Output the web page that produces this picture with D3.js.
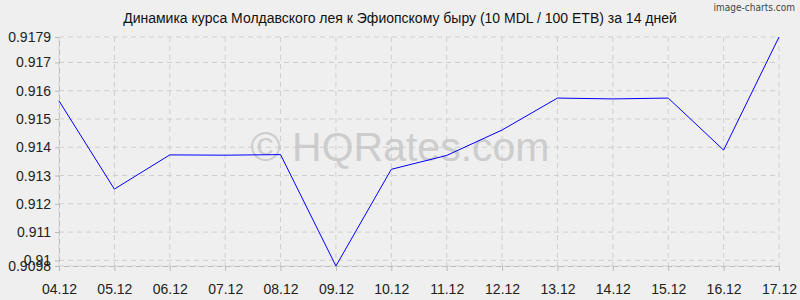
<!DOCTYPE html>
<html>
<head>
<meta charset="utf-8">
<script src="https://cdn.jsdelivr.net/npm/d3@7"></script>
<style>
  body { margin: 0; background: #efefef; }
  svg { display: block; font-family: "Liberation Sans", Arial, sans-serif; }
</style>
</head>
<body>
<svg width="800" height="300"></svg>
<script>
// data
var dates = ['04.12','05.12','06.12','07.12','08.12','09.12','10.12','11.12','12.12','13.12','14.12','15.12','16.12','17.12'];
var rates = [0.91564, 0.91252, 0.91373, 0.91372, 0.91374, 0.9098, 0.91322, 0.91371, 0.91461, 0.91574, 0.91571, 0.91574, 0.9139, 0.9179];
var yTicks = [0.9098, 0.91, 0.911, 0.912, 0.913, 0.914, 0.915, 0.916, 0.917, 0.9179];
var title = 'Динамика курса Молдавского лея к Эфиопскому быру (10 MDL / 100 ETB) за 14 дней';

var svg = d3.select('svg');
var plotL = 59, plotR = 779, plotT = 37, plotB = 266;

var x = d3.scalePoint().domain(dates).range([plotL, plotR]);
var y = d3.scaleLinear().domain([0.9098, 0.9179]).range([plotB, plotT]);

// grid
svg.append('g').selectAll('line').data(yTicks).enter().append('line')
  .attr('x1', plotL).attr('x2', plotR)
  .attr('y1', function(d){ return y(d); }).attr('y2', function(d){ return y(d); })
  .attr('stroke', '#cfcfcf').attr('stroke-dasharray', '5,4');

svg.append('g').selectAll('line').data(dates).enter().append('line')
  .attr('x1', function(d){ return x(d); }).attr('x2', function(d){ return x(d); })
  .attr('y1', plotT).attr('y2', plotB)
  .attr('stroke', '#cfcfcf').attr('stroke-dasharray', '5,4');

// axes
var yAxis = svg.append('g').attr('transform', 'translate(' + plotL + ',0)')
  .call(d3.axisLeft(y).tickValues(yTicks).tickSize(4).tickPadding(4)
    .tickFormat(function(d){ return String(+d.toFixed(4)); }));
var xAxis = svg.append('g').attr('transform', 'translate(0,' + plotB + ')')
  .call(d3.axisBottom(x).tickSize(5).tickPadding(10));

[yAxis, xAxis].forEach(function(a){
  a.select('.domain').attr('stroke', '#bbb').attr('stroke-dasharray', '5,4');
  a.selectAll('.tick line').attr('stroke', '#bbb');
  a.selectAll('.tick text').attr('fill', '#222').style('font-size', '14px');
});
xAxis.selectAll('.tick text').attr('dy', '0.9em');

// watermark
svg.append('text')
  .attr('x', 400).attr('y', 161)
  .attr('text-anchor', 'middle')
  .style('font-size', '41px')
  .attr('fill', '#c4c4c4')
  .attr('fill-opacity', 0.8)
  .text('© HQRates.com');

// line
var line = d3.line()
  .x(function(d, i){ return x(dates[i]); })
  .y(function(d){ return y(d); });

svg.append('path').datum(rates)
  .attr('d', line)
  .attr('fill', 'none')
  .attr('stroke', '#0000ff')
  .attr('stroke-width', 1);

// title
svg.append('text')
  .attr('x', 400).attr('y', 23)
  .attr('text-anchor', 'middle')
  .style('font-size', '14px')
  .attr('fill', '#111')
  .text(title);

svg.append('text')
  .attr('x', 795).attr('y', 11)
  .attr('text-anchor', 'end')
  .style('font-family', '"DejaVu Sans Condensed", sans-serif')
  .style('font-size', '10px')
  .attr('fill', '#444')
  .text('image-charts.com');
</script>
</body>
</html>
